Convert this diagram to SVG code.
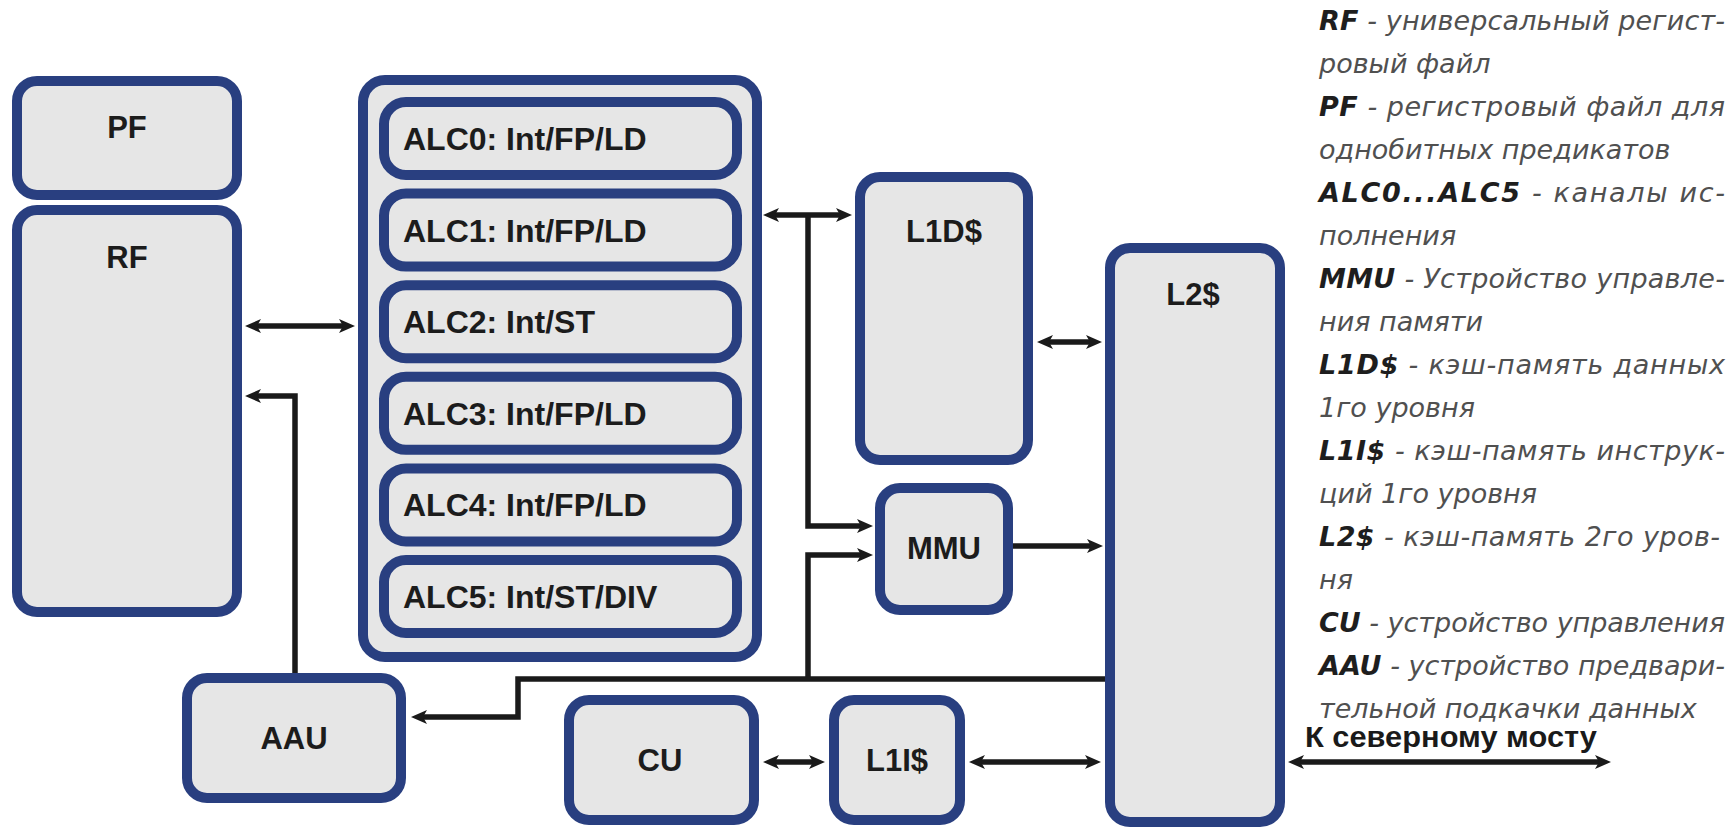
<svg xmlns="http://www.w3.org/2000/svg" width="1734" height="834" viewBox="0 0 1734 834">
<style>
.box{fill:#e6e6e6;stroke:#293f80;stroke-width:10}
.lbl{font-family:"Liberation Sans",Arial,sans-serif;font-weight:bold;font-size:31px;fill:#1c1c1c}
.alc{font-family:"Liberation Sans",Arial,sans-serif;font-weight:bold;font-size:32px;fill:#1c1c1c}
.wire{fill:none;stroke:#1a1a1a;stroke-width:5.5}
.leg{font-family:"DejaVu Sans",sans-serif;font-style:italic;font-size:27px;fill:#505050}
.leg tspan.b{font-weight:bold;fill:#1e1e1e}
.nb{font-family:"Liberation Sans",Arial,sans-serif;font-weight:bold;font-size:29px;fill:#1a1a1a}
</style>
<defs>
<marker id="ah" viewBox="0 0 16 14" refX="6" refY="7" markerWidth="16" markerHeight="14" markerUnits="userSpaceOnUse" orient="auto-start-reverse">
<path d="M0,0 L16,7 L0,14 L4,7 Z" fill="#1a1a1a"/>
</marker>
</defs>
<rect x="0" y="0" width="1734" height="834" fill="#ffffff"/>

<g id="connectors">
<path class="wire" d="M255,326 H345" marker-start="url(#ah)" marker-end="url(#ah)"/>
<path class="wire" d="M295,675 V396 H255" marker-end="url(#ah)"/>
<path class="wire" d="M773,215 H842" marker-start="url(#ah)" marker-end="url(#ah)"/>
<path class="wire" d="M808,215 V526 H863" marker-end="url(#ah)"/>
<path class="wire" d="M808,679 V555 H863" marker-end="url(#ah)"/>
<path class="wire" d="M1047,342 H1092" marker-start="url(#ah)" marker-end="url(#ah)"/>
<path class="wire" d="M1013,546 H1093" marker-end="url(#ah)"/>
<path class="wire" d="M1106,679 H518 V717 H421" marker-end="url(#ah)"/>
<path class="wire" d="M773,762 H815" marker-start="url(#ah)" marker-end="url(#ah)"/>
<path class="wire" d="M979,762 H1091" marker-start="url(#ah)" marker-end="url(#ah)"/>
<path class="wire" d="M1298,762 H1601" marker-start="url(#ah)" marker-end="url(#ah)"/>
</g>

<g id="PF"><rect class="box" x="17" y="81" width="220" height="114" rx="20"/><text class="lbl" x="127" y="138" text-anchor="middle">PF</text></g>
<g id="RF"><rect class="box" x="17" y="210" width="220" height="402" rx="20"/><text class="lbl" x="127" y="268" text-anchor="middle">RF</text></g>

<g id="ALC">
<rect class="box" x="363" y="80" width="394" height="577" rx="22"/>
<g id="ALC0"><rect class="box" x="384" y="102" width="353" height="73" rx="22"/><text class="alc" x="403" y="150">ALC0: Int/FP/LD</text></g>
<g id="ALC1"><rect class="box" x="384" y="193.6" width="353" height="73" rx="22"/><text class="alc" x="403" y="241.6">ALC1: Int/FP/LD</text></g>
<g id="ALC2"><rect class="box" x="384" y="285.2" width="353" height="73" rx="22"/><text class="alc" x="403" y="333.2">ALC2: Int/ST</text></g>
<g id="ALC3"><rect class="box" x="384" y="376.8" width="353" height="73" rx="22"/><text class="alc" x="403" y="424.8">ALC3: Int/FP/LD</text></g>
<g id="ALC4"><rect class="box" x="384" y="468.4" width="353" height="73" rx="22"/><text class="alc" x="403" y="516.4">ALC4: Int/FP/LD</text></g>
<g id="ALC5"><rect class="box" x="384" y="560" width="353" height="73" rx="22"/><text class="alc" x="403" y="608">ALC5: Int/ST/DIV</text></g>
</g>

<g id="L1D"><rect class="box" x="860" y="177" width="168" height="283" rx="20"/><text class="lbl" x="944" y="242" text-anchor="middle">L1D$</text></g>
<g id="L2"><rect class="box" x="1110" y="248" width="170" height="574" rx="20"/><text class="lbl" x="1193" y="305" text-anchor="middle">L2$</text></g>
<g id="MMU"><rect class="box" x="880" y="488" width="128" height="122" rx="20"/><text class="lbl" x="944" y="559" text-anchor="middle">MMU</text></g>
<g id="AAU"><rect class="box" x="187" y="678" width="214" height="120" rx="20"/><text class="lbl" x="294" y="749" text-anchor="middle">AAU</text></g>
<g id="CU"><rect class="box" x="569" y="700" width="185" height="120" rx="20"/><text class="lbl" x="660" y="771" text-anchor="middle">CU</text></g>
<g id="L1I"><rect class="box" x="834" y="700" width="126" height="120" rx="20"/><text class="lbl" x="897" y="771" text-anchor="middle">L1I$</text></g>

<g id="northbridge"><text class="nb" x="1305" y="747" textLength="292" lengthAdjust="spacingAndGlyphs">К северному мосту</text></g>

<g id="legend">
<text class="leg" x="1319" y="30" textLength="406" lengthAdjust="spacing"><tspan class="b">RF</tspan> - универсальный регист-</text>
<text class="leg" x="1319" y="73">ровый файл</text>
<text class="leg" x="1319" y="116" textLength="406" lengthAdjust="spacing"><tspan class="b">PF</tspan> - регистровый файл для</text>
<text class="leg" x="1319" y="159">однобитных предикатов</text>
<text class="leg" x="1319" y="202" textLength="406" lengthAdjust="spacing"><tspan class="b">ALC0...ALC5</tspan> - каналы ис-</text>
<text class="leg" x="1319" y="245">полнения</text>
<text class="leg" x="1319" y="288" textLength="406" lengthAdjust="spacing"><tspan class="b">MMU</tspan> - Устройство управле-</text>
<text class="leg" x="1319" y="331">ния памяти</text>
<text class="leg" x="1319" y="374" textLength="406" lengthAdjust="spacing"><tspan class="b">L1D$</tspan> - кэш-память данных</text>
<text class="leg" x="1319" y="417">1го уровня</text>
<text class="leg" x="1319" y="460" textLength="406" lengthAdjust="spacing"><tspan class="b">L1I$</tspan> - кэш-память инструк-</text>
<text class="leg" x="1319" y="503">ций 1го уровня</text>
<text class="leg" x="1319" y="546" textLength="401" lengthAdjust="spacing"><tspan class="b">L2$</tspan> - кэш-память 2го уров-</text>
<text class="leg" x="1319" y="589">ня</text>
<text class="leg" x="1319" y="632" textLength="406" lengthAdjust="spacing"><tspan class="b">CU</tspan> - устройство управления</text>
<text class="leg" x="1319" y="675" textLength="406" lengthAdjust="spacing"><tspan class="b">AAU</tspan> - устройство предвари-</text>
<text class="leg" x="1319" y="718">тельной подкачки данных</text>
</g>
</svg>
